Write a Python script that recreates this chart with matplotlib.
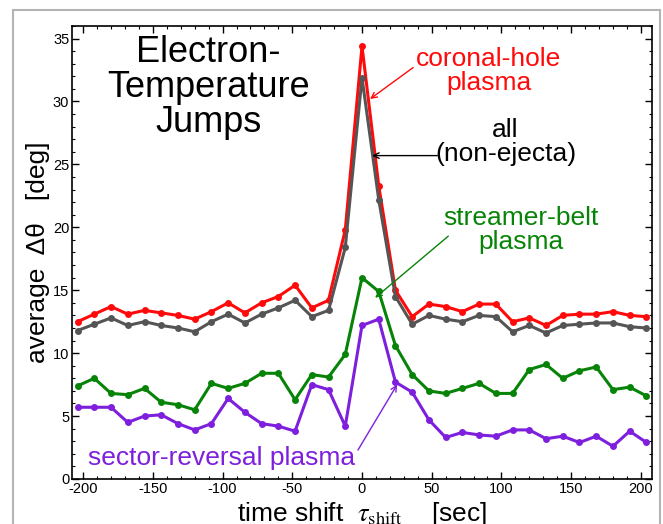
import matplotlib
matplotlib.use("Agg")
import matplotlib.pyplot as plt
from matplotlib.patches import Rectangle
from matplotlib.ticker import MultipleLocator

plt.rcParams['font.family'] = ['Liberation Sans', 'DejaVu Sans']
plt.rcParams['mathtext.fontset'] = 'stix'

# time shift [sec], 12 s steps
shift = list(range(-204, 205, 12))

coronal_hole = [12.5, 13.1, 13.7, 13.1, 13.4, 13.2, 13.0, 12.7, 13.3, 14.0, 13.2, 14.0,
                14.5, 15.4, 13.6, 14.2, 19.8, 34.4, 23.3, 15.0, 12.9, 13.9, 13.7, 13.3,
                13.9, 13.9, 12.5, 12.8, 12.2, 13.0, 13.1, 13.1, 13.3, 13.0, 12.9]
all_nonejecta = [11.8, 12.3, 12.8, 12.2, 12.5, 12.2, 12.0, 11.7, 12.5, 13.1, 12.4, 13.1,
                 13.6, 14.2, 12.9, 13.4, 18.4, 31.9, 22.2, 14.5, 12.3, 13.0, 12.7, 12.5,
                 13.0, 12.9, 11.7, 12.2, 11.6, 12.2, 12.3, 12.4, 12.4, 12.1, 12.0]
streamer_belt = [7.4, 8.0, 6.8, 6.7, 7.2, 6.1, 5.9, 5.5, 7.6, 7.2, 7.6, 8.4,
                 8.4, 6.3, 8.3, 8.1, 9.9, 16.0, 14.9, 10.6, 8.3, 7.0, 6.8, 7.2,
                 7.6, 6.8, 6.8, 8.7, 9.1, 8.0, 8.6, 8.9, 7.1, 7.3, 6.6]
sector_reversal = [5.7, 5.7, 5.7, 4.5, 5.0, 5.1, 4.4, 3.9, 4.4, 6.4, 5.3, 4.4,
                   4.2, 3.8, 7.5, 7.1, 4.2, 12.2, 12.7, 7.7, 6.9, 4.7, 3.3, 3.7,
                   3.5, 3.4, 3.9, 3.9, 3.2, 3.4, 2.9, 3.4, 2.6, 3.8, 2.9]

RED = '#ff0a0a'
GRAY = '#555555'
GREEN = '#078407'
PURPLE = '#7d1fdc'

fig = plt.figure(figsize=(6.63, 5.24), dpi=100)
ax = fig.add_axes([0.1086, 0.0859, 0.8748, 0.8645])

# light frame around the figure
fig.patches.append(Rectangle((0.0196, -0.2), 0.9759, 1.181, transform=fig.transFigure,
                             fill=False, edgecolor='#b4b4b4', linewidth=1.5))

for vals, col in [(coronal_hole, RED), (all_nonejecta, GRAY),
                  (streamer_belt, GREEN), (sector_reversal, PURPLE)]:
    ax.plot(shift, vals, color=col, linewidth=2.2, marker='o', markersize=5,
            markeredgewidth=0)

ax.set_xlim(-208, 208)
ax.set_ylim(0, 36)
ax.xaxis.set_major_locator(MultipleLocator(50))
ax.xaxis.set_minor_locator(MultipleLocator(10))
ax.yaxis.set_major_locator(MultipleLocator(5))
ax.yaxis.set_minor_locator(MultipleLocator(1))
ax.tick_params(which='both', direction='in', top=True, right=True, labelsize=10.5)
ax.tick_params(which='major', length=5, width=1)
ax.tick_params(which='minor', length=2.5, width=0.8)
ax.tick_params(axis='y', pad=2)
ax.tick_params(axis='x', pad=2)
for s in ax.spines.values():
    s.set_linewidth(1.2)

ax.set_xticks(ax.get_xticks())
ax.set_xticklabels([f"{int(t)}" for t in ax.get_xticks()])
ax.set_xlim(-208, 208)

ax.set_xlabel(r"time shift  $\tau_{\mathrm{shift}}$    [sec]", fontsize=19)
ax.xaxis.set_label_coords(0.5, -0.047)
ax.set_ylabel("average  Δθ   [deg]", fontsize=19)
ax.yaxis.set_label_coords(-0.038, 0.5)

ax.text(-110, 31.1, "Electron-\nTemperature\nJumps", fontsize=26, ha='center',
        va='center', linespacing=1.0)

ax.text(91, 32.4, "coronal-hole\nplasma", color=RED, fontsize=19, ha='center',
        va='center', linespacing=1.0)
ax.annotate('', xy=(5.8, 30.2), xytext=(36.7, 32.7),
            arrowprops=dict(arrowstyle='->', color=RED, lw=1, shrinkA=0, shrinkB=0))

ax.text(103, 26.8, "all\n(non-ejecta)", color='black', fontsize=19, ha='center',
        va='center', linespacing=1.0)
ax.annotate('', xy=(7.2, 25.7), xytext=(54, 25.7),
            arrowprops=dict(arrowstyle='->', color='black', lw=1, shrinkA=0, shrinkB=0))

ax.text(114, 19.8, "streamer-belt\nplasma", color=GREEN, fontsize=19, ha='center',
        va='center', linespacing=1.0)
ax.annotate('', xy=(9.4, 14.4), xytext=(61.9, 19.3),
            arrowprops=dict(arrowstyle='->', color=GREEN, lw=1, shrinkA=0, shrinkB=0))

ax.text(-101, 1.7, "sector-reversal plasma", color=PURPLE, fontsize=19, ha='center',
        va='center')
ax.annotate('', xy=(25.2, 7.5), xytext=(-2.9, 2.3),
            arrowprops=dict(arrowstyle='->', color=PURPLE, lw=1, shrinkA=0, shrinkB=0))

fig.savefig("out.png", dpi=100)
